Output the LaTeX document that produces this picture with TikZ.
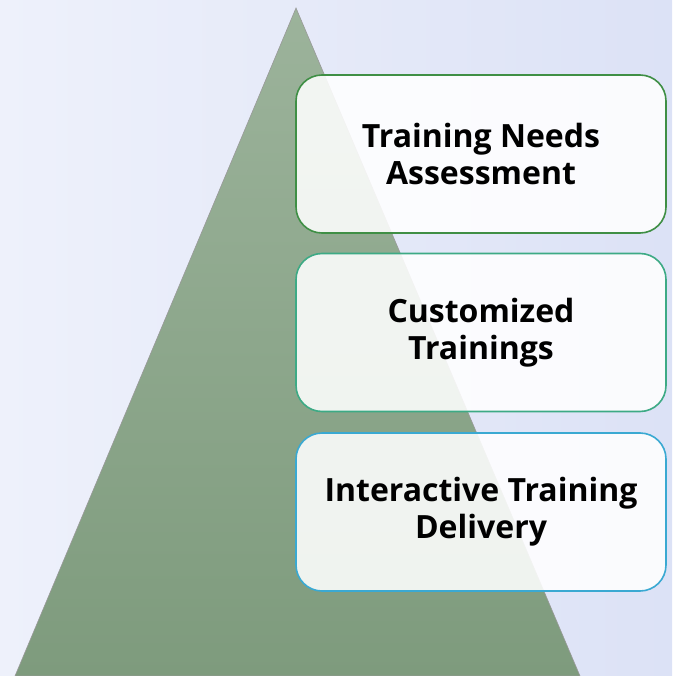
\documentclass[tikz,border=0pt]{standalone}
\usepackage{fontspec}
\setmainfont{Open Sans}
\usetikzlibrary{shapes.misc}
\definecolor{bgl}{HTML}{EEF1FB}
\definecolor{bgr}{HTML}{DCE2F6}
\definecolor{trtop}{HTML}{9CB39B}
\definecolor{trbot}{HTML}{7E9B7D}
\definecolor{bdone}{HTML}{3F8F45}
\definecolor{bdtwo}{HTML}{3DAA85}
\definecolor{bdthree}{HTML}{3AA9D2}
\tikzset{
  stepbox/.style={rounded corners=26pt, line width=1.6pt, fill=white, fill opacity=0.88, text opacity=1,
    minimum width=370pt, minimum height=158pt, align=center, inner sep=0pt,
    font=\fontsize{32}{37}\selectfont\bfseries, text=black},
}
\begin{document}
\begin{tikzpicture}[x=1pt,y=-1pt]
\useasboundingbox (0,0) rectangle (672,676);
\shade[left color=bgl, right color=bgr] (0,0) rectangle (672,676);
\coordinate (apex) at (296,8);
\coordinate (bl) at (15,676);
\coordinate (br) at (580,676);
\shade[top color=trtop, bottom color=trbot, draw=gray!80, line width=0.6pt] (apex) -- (bl) -- (br) -- cycle;
\node[stepbox, draw=bdone] (n1) at (481,154) {Training Needs\\Assessment};
\node[stepbox, draw=bdtwo] (n2) at (481,332.5) {Customized\\Trainings};
\node[stepbox, draw=bdthree] (n3) at (481,512) {Interactive Training\\Delivery};
\end{tikzpicture}
\end{document}
